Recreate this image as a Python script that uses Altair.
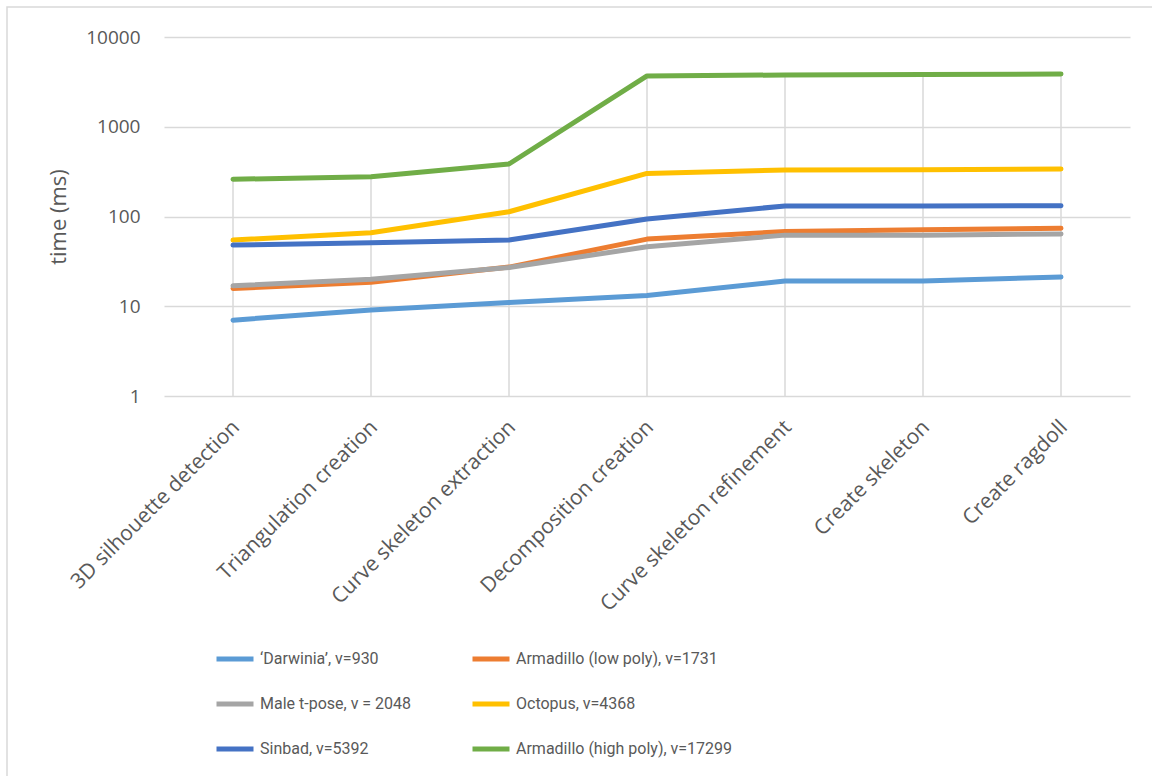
import altair as alt
import pandas as pd

categories = [
    "3D silhouette detection",
    "Triangulation creation",
    "Curve skeleton extraction",
    "Decomposition creation",
    "Curve skeleton refinement",
    "Create skeleton",
    "Create ragdoll",
]

series_names = [
    "\u2018Darwinia\u2019, v=930",
    "Armadillo (low poly), v=1731",
    "Male t-pose, v = 2048",
    "Octopus, v=4368",
    "Sinbad, v=5392",
    "Armadillo (high poly), v=17299",
]

darwinia = [7.0, 9.1, 11.0, 13.2, 19.1, 19.1, 21.2]
armadillo_low = [15.8, 18.5, 27.3, 56, 68, 71, 74]
male_tpose = [16.9, 20, 27, 46, 62, 62, 64]
octopus = [54.7, 66, 113, 302, 330, 332, 338]
sinbad = [48, 51, 54.7, 94, 131, 131, 132]
armadillo_high = [260, 277, 385, 3680, 3775, 3820, 3870]

colors = ["#5B9BD5", "#ED7D31", "#A5A5A5", "#FFC000", "#4472C4", "#70AD47"]

all_series = [darwinia, armadillo_low, male_tpose, octopus, sinbad, armadillo_high]

rows = []
for name, vals in zip(series_names, all_series):
    for cat, v in zip(categories, vals):
        rows.append({"series": name, "step": cat, "time": v})
df = pd.DataFrame(rows)

# legend is filled column by column: reorder so rows read pairwise as in the reference
legend_order = series_names[0::2] + series_names[1::2]
legend_colors = colors[0::2] + colors[1::2]

W, H = 966, 359
LEFT, TOP = 164, 37

x_enc = alt.X(
    "step:N",
    sort=categories,
    scale=alt.Scale(type="point", padding=0.5),
    axis=alt.Axis(
        title=None,
        labelAngle=315,
        labelFont="Open Sans",
        labelFontSize=21,
        labelColor="#595959",
        labelPadding=20,
        labelOffset=-5,
        domain=False,
        ticks=False,
        grid=False,
        labelLimit=400,
    ),
)

y_scale = alt.Scale(type="log", domain=[1, 10000], nice=False)

drop = (
    alt.Chart(df)
    .transform_aggregate(maxv="max(time)", groupby=["step"])
    .mark_rule(color="#d9d9d9", strokeWidth=1.5)
    .encode(
        x=x_enc,
        y=alt.Y("maxv:Q", scale=y_scale,
                axis=alt.Axis(
                    title="time (ms)",
                    values=[1, 10, 100, 1000, 10000],
                    format="d",
                    labelFont="Open Sans",
                    labelFontSize=19,
                    labelColor="#595959",
                    labelPadding=24,
                    domain=False,
                    ticks=False,
                    grid=True,
                    gridColor="#d9d9d9",
                    gridWidth=1.5,
                    titleFont="Open Sans",
                    titleFontSize=22,
                    titleFontWeight="normal",
                    titleColor="#595959",
                    titleX=-106,
                    titleY=H / 2,
                    titleAngle=270,
                    titleBaseline="middle",
                    titleAlign="center",
                )),
        y2=alt.datum(1),
    )
)

lines = (
    alt.Chart(df)
    .mark_line(strokeWidth=5, strokeCap="round", strokeJoin="round")
    .encode(
        x=x_enc,
        y=alt.Y("time:Q", scale=y_scale),
        color=alt.Color(
            "series:N",
            scale=alt.Scale(domain=legend_order, range=legend_colors),
            legend=alt.Legend(
                title=None,
                orient="none",
                legendX=50,
                legendY=601,
                columns=2,
                columnPadding=50,
                rowPadding=14,
                padding=0,
                symbolType="stroke",
                symbolSize=1369,
                symbolStrokeWidth=5,
                labelFont="Roboto",
                labelFontSize=16,
                labelColor="#595959",
                labelOffset=4,
                labelLimit=400,
            ),
        ),
    )
)

border = (
    alt.Chart(pd.DataFrame({"a": [0]}))
    .mark_rect(fill=None, stroke="#d9d9d9", strokeWidth=1.5)
    .encode(
        x=alt.value(7 - LEFT),
        x2=alt.value(1200),
        y=alt.value(7 - TOP),
        y2=alt.value(800),
    )
)

chart = (
    alt.layer(border, drop, lines)
    .properties(
        width=W,
        height=H,
        autosize=alt.AutoSizeParams(type="none"),
        padding={"left": LEFT, "top": TOP, "right": 1152 - LEFT - W, "bottom": 776 - TOP - H},
        background="white",
    )
    .configure_view(stroke=None)
)

chart.save("out.html", embed_options={"renderer": "svg", "actions": False})
